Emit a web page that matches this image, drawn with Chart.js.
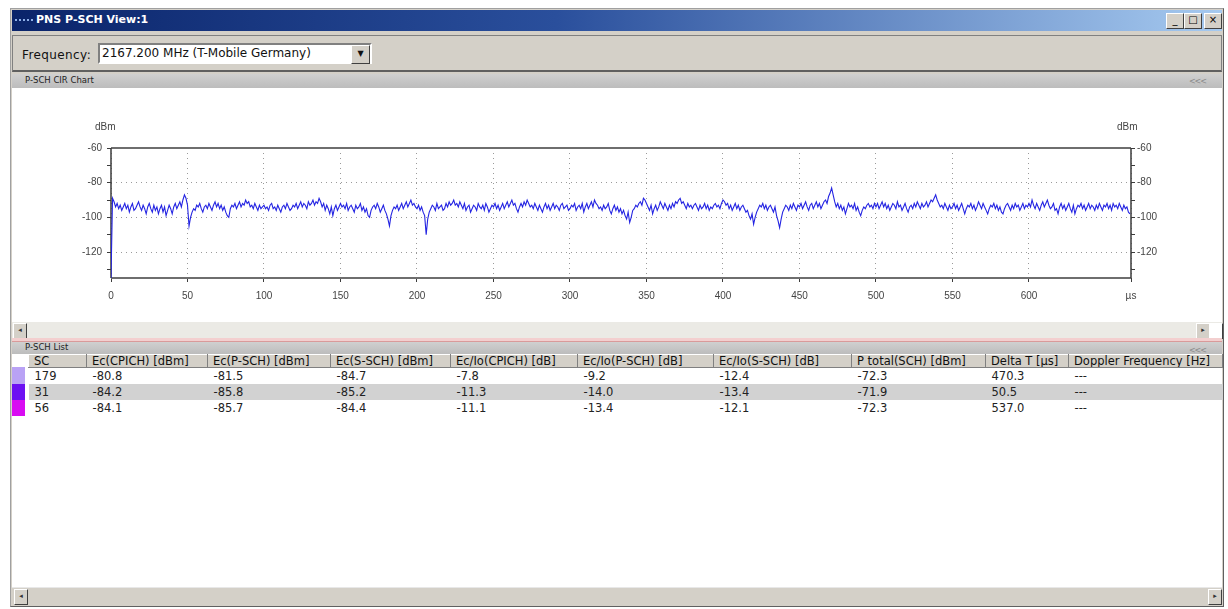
<!DOCTYPE html>
<html>
<head>
<meta charset="utf-8">
<title>PNS P-SCH View:1</title>
<script src="https://cdn.jsdelivr.net/npm/chart.js@4.4.0/dist/chart.umd.min.js"></script>
<style>
  body { margin: 0; width: 1228px; height: 609px; background: #fff; position: relative; overflow: hidden;
         font-family: "DejaVu Sans", sans-serif; font-size: 11px; color: #111; }
  .abs { position: absolute; box-sizing: border-box; }
  #win { left: 10px; top: 8px; width: 1214px; height: 599px; background: #d4d0c8;
         border: 1px solid #a0a0a0; border-right-color: #606060; border-bottom-color: #606060; }
  #title { left: 12px; top: 10px; width: 1210px; height: 21px;
           background: linear-gradient(90deg, #0a246a 0%, #2a4f9c 45%, #a6caf0 100%); }
  #title .txt { position: absolute; left: 24px; top: 3px; color: #fff; font-weight: bold; font-size: 11px; }
  #title .ico { position: absolute; left: 3px; top: 9px; width: 18px; height: 3px;
                border-top: 2px dotted #8fb0e8; }
  .tbtn { position: absolute; top: 3px; width: 16px; height: 14px; background: #d4d0c8; font-size: 10px;
          border: 1px solid; border-color: #fff #404040 #404040 #fff; text-align: center; line-height: 11px; color: #000; }
  #freqPanel { left: 12px; top: 35px; width: 1210px; height: 37px; border: 1px solid #808080; border-bottom: 2px solid #606060; }
  #freqLbl { left: 22px; top: 48px; font-size: 12px; letter-spacing: 0.4px; }
  #combo { left: 98px; top: 43px; width: 274px; height: 21px; background: #fff;
           border: 2px solid; border-color: #808080 #fff #fff #808080; }
  #combo .val { position: absolute; left: 2px; top: 1px; font-size: 12px; }
  #combo .btn { position: absolute; right: 0; top: 0; width: 17px; height: 17px; background: #d4d0c8;
                border: 1px solid; border-color: #fff #404040 #404040 #fff; font-size: 8px; text-align: center; line-height: 15px; }
  .bar { background: linear-gradient(#d0d0d0, #bcbcbc); }
  .bar .cap { position: absolute; left: 13px; top: 1px; font-size: 8.5px; color: #222; }
  .bar .arr { position: absolute; right: 16px; top: 3px; font-size: 8px; color: #8a8a8a; letter-spacing: -1px; }
  #chartHdr { left: 12px; top: 74px; width: 1210px; height: 14px; }
  #chartBox { left: 12px; top: 88px; width: 1210px; height: 234px; background: #fff; }
  #hscroll1 { left: 12px; top: 322px; width: 1210px; height: 16px; background: #ebeae5; }
  #pinkLine { left: 12px; top: 338px; width: 1210px; height: 4px; background: #f3cfcf; border-bottom: 1px solid #d99a9a; }
  .sbtn { position: absolute; width: 12px; height: 14px; background: #d4d0c8; font-size: 7px; text-align: center; line-height: 12px;
          border: 1px solid; border-color: #fff #404040 #404040 #fff; color: #333; }
  #listHdr { left: 12px; top: 342px; width: 1210px; height: 12px; }
  #listBox { left: 12px; top: 354px; width: 1210px; height: 233px; background: #fff; }
  table { border-collapse: collapse; position: absolute; left: 16px; top: 0; table-layout: fixed; }
  th { font-weight: normal; text-align: left; height: 12px; line-height: 11px; padding: 0 0 0 5px; background: #d4d0c8; white-space: nowrap;
       border: 1px solid; border-color: #fff #808080 #808080 #fff; font-size: 11.5px; overflow: hidden; }
  td { height: 16px; line-height: 14px; padding: 0 0 0 6px; white-space: nowrap; font-size: 11.5px; color: #222; }
  tr.alt td { background: #d2d2d2; }
  .sw { position: absolute; left: 0; width: 13px; height: 16px; }
  #hscroll2 { left: 12px; top: 587px; width: 1210px; height: 18px; background: #d4d0c8; border-top: 1px solid #e8e8e8; }
</style>
</head>
<body>
<div class="abs" id="win"></div>
<div class="abs" id="title"><div class="ico"></div><div class="txt">PNS P-SCH View:1</div>
  <div class="tbtn" style="left:1154px">_</div><div class="tbtn" style="left:1172px">□</div><div class="tbtn" style="left:1192px">×</div>
</div>
<div class="abs" id="freqPanel"></div>
<div class="abs" id="freqLbl">Frequency:</div>
<div class="abs" id="combo"><div class="val">2167.200 MHz (T-Mobile Germany)</div><div class="btn">▼</div></div>
<div class="abs bar" id="chartHdr"><div class="cap">P-SCH CIR Chart</div><div class="arr">&lt;&lt;&lt;</div></div>
<div class="abs" id="chartBox"><canvas id="cir" width="1210" height="234"></canvas></div>
<div class="abs" id="hscroll1"><div class="sbtn" style="left:1px;top:1px">◂</div>
  <div class="sbtn" style="left:1184px;top:1px">▸</div><div class="sbtn" style="left:1197px;top:1px;background:#fff"></div></div>
<div class="abs" id="pinkLine"></div>
<div class="abs bar" id="listHdr"><div class="cap" style="top:0">P-SCH List</div><div class="arr" style="top:4px">&lt;&lt;&lt;</div></div>
<div class="abs" id="listBox"><div id="swatches"></div><table id="list"></table></div>
<div class="abs" id="hscroll2"><div class="sbtn" style="left:2px;top:1px">◂</div><div class="sbtn" style="left:1196px;top:1px">▸</div></div>

<script>
// CIR trace in dBm, one value per µs starting at 0 µs
const xStep = 1;
const xMax = 666.67;
const cirValues = [
  -135, -89, -91, -94, -92, -95, -93, -96, -94, -92, -95, -93, -97, -94, -92, -96, -95, -93, -91, -94,
  -96, -93, -95, -98, -94, -92, -95, -97, -93, -96, -94, -98, -95, -93, -97, -94, -99, -96, -93, -95,
  -98, -94, -92, -95, -93, -91, -94, -90, -87, -89,
  -93, -105, -100, -97, -95, -96, -93, -94, -92, -95, -97, -94, -93, -95, -92, -94, -96, -93, -91, -94,
  -92, -95, -93, -96, -94, -97, -99, -100, -95, -93, -94, -92, -95, -93, -91, -94, -92, -93, -90, -92,
  -91, -94, -93, -95, -92, -94, -96, -93, -95, -94,
  -93, -95, -94, -96, -93, -92, -95, -94, -96, -93, -95, -97, -94, -93, -95, -92, -94, -96, -95, -93,
  -94, -92, -95, -93, -91, -94, -92, -93, -95, -91, -93, -92, -90, -93, -91, -92, -89, -91, -94, -92,
  -96, -93, -95, -98, -94, -99, -95, -93, -96, -94,
  -92, -94, -93, -95, -92, -96, -94, -93, -95, -97, -93, -95, -94, -92, -96, -94, -97, -95, -99, -100,
  -96, -94, -93, -95, -92, -94, -97, -95, -93, -96, -98, -101, -105, -99, -96, -94, -95, -93, -96, -94,
  -92, -95, -93, -91, -94, -92, -90, -93, -92, -94,
  -95, -93, -96, -94, -97, -99, -110, -101, -97, -95, -93, -94, -96, -92, -95, -94, -93, -96, -95, -92,
  -94, -91, -93, -92, -90, -93, -92, -94, -91, -93, -95, -92, -96, -94, -93, -97, -95, -93, -94, -96,
  -92, -94, -95, -93, -96, -92, -94, -97, -95, -93,
  -94, -92, -95, -93, -96, -94, -92, -95, -93, -91, -94, -92, -90, -93, -92, -95, -97, -94, -92, -94,
  -91, -93, -90, -92, -94, -93, -95, -92, -94, -96, -93, -95, -97, -94, -92, -95, -93, -96, -94, -92,
  -95, -93, -94, -96, -93, -92, -95, -94, -93, -96,
  -95, -93, -94, -92, -96, -94, -93, -95, -92, -97, -94, -92, -95, -93, -91, -94, -90, -92, -93, -95,
  -94, -96, -93, -95, -94, -92, -96, -98, -95, -93, -96, -94, -97, -95, -98, -96, -99, -101, -97, -103,
  -100, -96, -95, -93, -94, -92, -91, -93, -89, -90,
  -92, -94, -96, -93, -98, -95, -93, -96, -94, -91, -93, -95, -92, -94, -96, -93, -95, -92, -94, -91,
  -92, -90, -89, -92, -91, -93, -95, -92, -94, -93, -95, -93, -92, -94, -96, -93, -95, -94, -92, -95,
  -93, -96, -94, -95, -93, -92, -94, -93, -95, -92,
  -90, -91, -93, -92, -95, -93, -96, -94, -92, -95, -93, -96, -94, -93, -95, -97, -96, -99, -101, -98,
  -104, -100, -97, -95, -93, -94, -92, -95, -93, -96, -94, -93, -95, -97, -94, -99, -102, -106, -101, -97,
  -95, -93, -94, -96, -93, -95, -92, -94, -96, -93,
  -94, -92, -95, -93, -91, -94, -96, -93, -92, -95, -93, -91, -94, -92, -95, -93, -91, -90, -92, -88,
  -86, -83, -87, -91, -94, -92, -95, -93, -96, -94, -98, -95, -92, -94, -93, -95, -92, -96, -94, -97,
  -99, -96, -94, -95, -93, -92, -94, -93, -95, -92,
  -94, -92, -95, -93, -91, -94, -92, -95, -93, -96, -94, -92, -93, -95, -91, -94, -93, -96, -94, -92,
  -95, -97, -94, -93, -95, -92, -94, -91, -93, -95, -92, -94, -93, -91, -94, -92, -90, -91, -89, -87,
  -90, -92, -94, -93, -95, -92, -94, -96, -93, -95,
  -94, -92, -95, -93, -96, -94, -92, -95, -98, -95, -93, -94, -92, -95, -93, -96, -94, -91, -93, -95,
  -92, -94, -96, -98, -95, -93, -94, -92, -95, -93, -96, -94, -97, -98, -95, -93, -92, -94, -96, -93,
  -95, -92, -94, -93, -96, -94, -92, -95, -93, -94,
  -92, -94, -90, -93, -95, -92, -94, -96, -93, -91, -94, -92, -90, -93, -95, -94, -92, -96, -95, -98,
  -94, -92, -95, -93, -96, -94, -92, -95, -97, -93, -98, -95, -93, -94, -92, -95, -93, -96, -94, -92,
  -95, -93, -94, -96, -93, -95, -92, -94, -96, -93,
  -94, -92, -95, -93, -96, -92, -94, -93, -95, -92, -94, -96, -93, -95, -94, -97, -98
];

const xTicks = [0, 50, 100, 150, 200, 250, 300, 350, 400, 450, 500, 550, 600, xMax];
const xTickLabels = ['0', '50', '100', '150', '200', '250', '300', '350', '400', '450', '500', '550', '600', 'µs'];
const yTicks = [-130, -120, -110, -100, -90, -80, -70, -60];
const yMajor = [-120, -100, -80, -60];

// P-SCH list
const scCodes = ['179', '31', '56'];
const ecCpich = [-80.8, -84.2, -84.1];
const ecPsch = [-81.5, -85.8, -85.7];
const ecSsch = [-84.7, -85.2, -84.4];
const ecIoCpich = [-7.8, -11.3, -11.1];
const ecIoPsch = [-9.2, -14.0, -13.4];
const ecIoSsch = [-12.4, -13.4, -12.1];
const pTotal = [-72.3, -71.9, -72.3];
const deltaT = [470.3, 50.5, 537.0];
const doppler = ['---', '---', '---'];
const listHeaders = ['SC', 'Ec(CPICH) [dBm]', 'Ec(P-SCH) [dBm]', 'Ec(S-SCH) [dBm]', 'Ec/Io(CPICH) [dB]',
  'Ec/Io(P-SCH) [dB]', 'Ec/Io(S-SCH) [dB]', 'P total(SCH) [dBm]', 'Delta T [µs]', 'Doppler Frequency [Hz]'];

const colWidths = [58, 121, 123, 120, 127, 136, 138, 134, 83, 154];
const rowColors = ['#b9a2f5', '#6c10f2', '#d80cf2'];

document.addEventListener('DOMContentLoaded', () => {
    // table
    const table = document.getElementById('list');
    let html = '<colgroup>' + colWidths.map(w => `<col style="width:${w}px">`).join('') + '</colgroup>';
    html += '<tr>' + listHeaders.map(h => `<th>${h}</th>`).join('') + '</tr>';
    scCodes.forEach((sc, i) => {
        const cells = [sc, ecCpich[i].toFixed(1), ecPsch[i].toFixed(1), ecSsch[i].toFixed(1), ecIoCpich[i].toFixed(1),
            ecIoPsch[i].toFixed(1), ecIoSsch[i].toFixed(1), pTotal[i].toFixed(1), deltaT[i].toFixed(1), doppler[i]];
        html += `<tr class="${i === 1 ? 'alt' : ''}">` + cells.map(c => `<td>${c}</td>`).join('') + '</tr>';
    });
    table.innerHTML = html;
    table.style.width = colWidths.reduce((a, b) => a + b, 0) + 'px';

    const headerH = table.rows[0].offsetHeight;
    const swatches = document.getElementById('swatches');
    rowColors.forEach((c, i) => {
        const d = document.createElement('div');
        d.className = 'sw';
        d.style.top = table.rows[i + 1].offsetTop + 'px';
        d.style.height = table.rows[i + 1].offsetHeight + 'px';
        d.style.background = c;
        swatches.appendChild(d);
    });

    // chart
    const points = cirValues.map((v, i) => ({ x: i * xStep, y: v }));

    const frame = {
        id: 'frame',
        beforeDatasetsDraw(chart) {
            const { ctx, chartArea: a } = chart;
            ctx.save();
            ctx.strokeStyle = '#6e6e6e';
            ctx.lineWidth = 2;
            ctx.beginPath();
            ctx.moveTo(a.left, a.top); ctx.lineTo(a.right, a.top);
            ctx.moveTo(a.left, a.bottom); ctx.lineTo(a.right, a.bottom);
            ctx.stroke();
            ctx.strokeStyle = '#3c3c3c';
            ctx.lineWidth = 1.5;
            ctx.beginPath();
            ctx.moveTo(a.left, a.top); ctx.lineTo(a.left, a.bottom);
            ctx.moveTo(a.right, a.top); ctx.lineTo(a.right, a.bottom);
            ctx.stroke();
            ctx.fillStyle = '#444';
            ctx.font = '10px "Liberation Sans", Arial, sans-serif';
            ctx.textBaseline = 'middle';
            ctx.textAlign = 'left';
            ctx.fillText('dBm', a.left - 16, a.top - 21);
            ctx.fillText('dBm', a.right - 14, a.top - 21);
            ctx.restore();
        }
    };

    const tickFont = { family: '"Liberation Sans", Arial, sans-serif', size: 10 };
    const yGridColor = c => (c.tick && yMajor.includes(c.tick.value)) ? '#9a9a9a' : 'rgba(0,0,0,0)';
    const yLabel = v => yMajor.includes(v) ? String(v) : '';

    new Chart(document.getElementById('cir'), {
        type: 'line',
        data: {
            datasets: [{
                data: points,
                borderColor: 'rgb(36, 36, 226)',
                borderWidth: 1.1,
                pointRadius: 0,
                tension: 0
            }]
        },
        options: {
            responsive: false,
            animation: false,
            layout: { padding: { top: 60, left: 0, right: 0, bottom: 0 } },
            plugins: { legend: { display: false }, tooltip: { enabled: false } },
            scales: {
                x: {
                    type: 'linear',
                    min: 0,
                    max: xMax,
                    afterBuildTicks: s => { s.ticks = xTicks.map(v => ({ value: v })); },
                    afterFit: s => { s.height = 44; },
                    ticks: {
                        autoSkip: false, maxRotation: 0, padding: 8, color: '#444', font: tickFont,
                        callback: (v, i) => xTickLabels[i]
                    },
                    grid: { color: '#9a9a9a', tickColor: '#3c3c3c', tickLength: 4, lineWidth: 1 },
                    border: { display: false, dash: [1, 4] }
                },
                y: {
                    type: 'linear',
                    position: 'left',
                    min: -135,
                    max: -60,
                    afterBuildTicks: s => { s.ticks = yTicks.map(v => ({ value: v })); },
                    afterFit: s => { s.width = 99; },
                    ticks: { autoSkip: false, padding: 5, color: '#444', font: tickFont, callback: v => yLabel(v) },
                    grid: { color: yGridColor, tickColor: '#3c3c3c', tickLength: 4 },
                    border: { display: false, dash: [1, 4] }
                },
                y2: {
                    type: 'linear',
                    position: 'right',
                    min: -135,
                    max: -60,
                    afterBuildTicks: s => { s.ticks = yTicks.map(v => ({ value: v })); },
                    afterFit: s => { s.width = 91; },
                    ticks: { autoSkip: false, padding: 2, color: '#444', font: tickFont, callback: v => yLabel(v) },
                    grid: { drawOnChartArea: false, tickColor: '#3c3c3c', tickLength: 4 },
                    border: { display: false }
                }
            }
        },
        plugins: [frame]
    });
});
</script>
</body>
</html>
